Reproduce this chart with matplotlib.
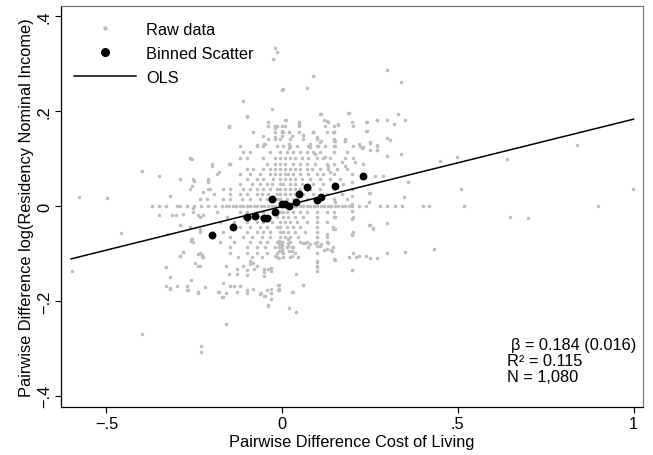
import matplotlib
matplotlib.use("Agg")
import matplotlib.pyplot as plt
from matplotlib.lines import Line2D

plt.rcParams["font.family"] = ["Liberation Sans", "DejaVu Sans"]

# binned scatter (20 bins)
bin_x = [-0.199, -0.140, -0.100, -0.078, -0.051, -0.042, -0.030, -0.020, 0.000, 0.009,
         0.021, 0.040, 0.049, 0.070, 0.100, 0.110, 0.150, 0.230]
bin_y = [-0.062, -0.044, -0.024, -0.022, -0.025, -0.025, 0.014, -0.013, 0.004, 0.004,
         0.001, 0.008, 0.026, 0.040, 0.012, 0.019, 0.042, 0.063]

# OLS fit
ols_slope = 0.184
ols_intercept = -0.001
ols_xrange = [-0.60, 1.00]

# raw data, dense core read row by row: (y, [x, ...])
core_rows = [
    (0.169, [-0.150, -0.039, -0.015, 0.008, 0.049, 0.122, 0.148, 0.203]),
    (0.155, [-0.020, -0.001, 0.021, 0.049, 0.089, 0.127, 0.148]),
    (0.141, [-0.039, -0.006, 0.023, 0.061, 0.099, 0.148, 0.179]),
    (0.127, [-0.072, -0.053, -0.015, 0.004, 0.023, 0.042, 0.075, 0.103, 0.122, 0.148, 0.203]),
    (0.113, [-0.110, -0.091, -0.034, -0.006, 0.013, 0.032, 0.051, 0.070, 0.089, 0.108, 0.148, 0.184]),
    (0.101, [-0.262, -0.120, -0.101, -0.053, -0.020, -0.006, 0.008, 0.023, 0.037, 0.056, 0.075,
             0.099, 0.117, 0.137, 0.179, 0.203]),
    (0.089, [-0.200, -0.148, -0.044, -0.020, -0.006, 0.008, 0.032, 0.051, 0.070, 0.094, 0.127, 0.148]),
    (0.078, [-0.101, -0.082, -0.053, -0.034, -0.020, -0.006, 0.008, 0.023, 0.037, 0.051, 0.070,
             0.084, 0.108, 0.132, 0.155, 0.184]),
    (0.067, [-0.186, -0.120, -0.091, -0.063, -0.034, -0.020, -0.006, 0.008, 0.018, 0.032, 0.051,
             0.075, 0.099, 0.117, 0.148, 0.198]),
    (0.057, [-0.252, -0.210, -0.101, -0.072, -0.053, -0.025, -0.006, 0.008, 0.023, 0.037, 0.056,
             0.080, 0.108, 0.137, 0.165]),
    (0.046, [-0.120, -0.086, -0.063, -0.044, -0.029, -0.006, 0.004, 0.023, 0.037, 0.056, 0.089,
             0.117, 0.148, 0.174]),
    (0.036, [-0.262, -0.205, -0.167, -0.148, -0.110, -0.091, -0.072, -0.053, -0.034, -0.015, -0.006,
             0.008, 0.023, 0.037, 0.051, 0.080, 0.108, 0.148, 0.198]),
    (0.025, [-0.195, -0.148, -0.120, -0.101, -0.072, -0.058, -0.039, -0.015, -0.006, 0.008, 0.023,
             0.037, 0.061, 0.089, 0.127, 0.170]),
    (0.015, [-0.214, -0.167, -0.148, -0.115, -0.091, -0.063, -0.044, -0.015, -0.006, 0.013, 0.032,
             0.070, 0.108, 0.148, 0.184]),
    (-0.001, [-0.37, -0.35, -0.33, -0.29, -0.27, -0.25, -0.23, -0.21, -0.19, -0.17, -0.16, -0.15,
              -0.14, -0.13, -0.12, -0.11, -0.10, -0.09, -0.08, -0.07, -0.06, -0.05, -0.04, -0.03,
              -0.02, -0.01, 0.00, 0.01, 0.02, 0.03, 0.04, 0.05, 0.06, 0.07, 0.08, 0.09, 0.10, 0.11,
              0.12, 0.13, 0.14, 0.15, 0.16, 0.17, 0.18, 0.19, 0.20, 0.22, 0.24, 0.28, 0.30, 0.32, 0.34]),
    (-0.013, [-0.252, -0.186, -0.120, -0.101, -0.072, -0.053, -0.025, -0.006, 0.004, 0.013, 0.032,
              0.051, 0.070, 0.099, 0.127, 0.148]),
    (-0.024, [-0.233, -0.157, -0.110, -0.086, -0.063, -0.034, -0.015, 0.004, 0.018, 0.037, 0.061,
              0.099, 0.148, 0.203]),
    (-0.034, [-0.176, -0.138, -0.101, -0.072, -0.053, -0.029, -0.006, 0.008, 0.023, 0.042, 0.070,
              0.099, 0.127]),
    (-0.045, [-0.262, -0.120, -0.091, -0.063, -0.044, -0.015, -0.006, 0.013, 0.032, 0.051, 0.099, 0.146]),
    (-0.055, [-0.233, -0.167, -0.101, -0.072, -0.053, -0.034, -0.006, 0.004, 0.018, 0.037, 0.065,
              0.099, 0.203]),
    (-0.066, [-0.148, -0.110, -0.086, -0.058, -0.034, -0.006, 0.008, 0.023, 0.046, 0.099]),
    (-0.076, [-0.252, -0.176, -0.138, -0.091, -0.063, -0.044, -0.015, -0.001, 0.023, 0.051, 0.099, 0.127]),
    (-0.087, [-0.148, -0.101, -0.072, -0.048, -0.020, -0.001, 0.013, 0.032, 0.075, 0.146]),
    (-0.098, [-0.233, -0.148, -0.101, -0.072, -0.044, -0.015, 0.004, 0.037, 0.099, 0.203]),
    (-0.108, [-0.224, -0.124, -0.086, -0.058, -0.015, 0.004, 0.023, 0.046]),
]

# raw data, scattered points around the core
raw_extra = [
    (-0.020, 0.334), (-0.015, 0.325), (-0.025, 0.310), (0.089, 0.275), (0.002, 0.247), (0.070, 0.248),
    (-0.110, 0.222), (-0.029, 0.204), (-0.100, 0.189), (0.108, 0.194), (0.009, 0.182), (0.049, 0.176),
    (-0.020, 0.169), (-0.150, 0.168), (0.004, 0.155), (0.028, 0.148), (-0.082, 0.155), (-0.053, 0.148),
    (-0.119, 0.127), (-0.048, 0.131), (-0.257, 0.100), (-0.399, 0.073), (-0.349, 0.064), (-0.290, 0.057),
    (-0.257, 0.043), (-0.210, 0.053), (-0.224, 0.029), (-0.200, 0.085), (-0.148, 0.089), (-0.578, 0.018),
    (-0.499, 0.017), (-0.349, -0.019), (-0.314, -0.020), (-0.252, -0.005), (-0.233, 0.015),
    (-0.598, -0.136), (-0.459, -0.056), (-0.399, -0.270), (-0.230, -0.296), (-0.230, -0.308),
    (-0.159, -0.249), (0.039, -0.224), (-0.039, -0.210), (-0.330, -0.129), (-0.319, -0.150),
    (-0.330, -0.168), (-0.319, -0.175), (-0.300, -0.168), (-0.271, -0.168), (-0.271, -0.176),
    (-0.260, -0.155), (-0.238, -0.181), (-0.219, -0.171), (-0.290, -0.105), (-0.238, -0.101),
    (-0.228, -0.105), (-0.233, -0.126), (-0.283, -0.096), (-0.181, -0.181), (-0.172, -0.192),
    (-0.148, -0.168), (-0.119, -0.168), (-0.129, -0.182), (-0.100, -0.178), (-0.082, -0.175),
    (-0.063, -0.185), (-0.048, -0.190), (-0.044, -0.178), (-0.032, -0.175), (-0.011, -0.176),
    (-0.011, -0.166), (0.030, -0.181), (0.059, -0.166), (0.021, -0.214), (0.061, -0.166),
    (0.198, -0.134), (0.431, -0.091), (0.350, -0.096), (0.300, -0.099), (0.250, -0.110),
    (0.220, -0.106), (0.191, -0.108), (0.151, -0.113), (0.099, -0.115), (0.099, -0.126),
    (0.099, -0.136), (0.300, -0.036), (0.250, -0.041), (0.260, -0.047), (0.198, -0.059),
    (0.146, -0.048), (0.127, -0.059), (0.127, -0.066), (0.141, -0.094), (0.127, -0.091),
    (0.108, -0.084), (0.094, -0.077), (0.080, -0.080), (0.065, -0.077), (0.300, 0.287),
    (0.339, 0.262), (0.110, 0.194), (0.127, 0.180), (0.160, 0.173), (0.191, 0.196), (0.241, 0.178),
    (0.269, 0.182), (0.300, 0.182), (0.329, 0.194), (0.319, 0.173), (0.350, 0.182), (0.241, 0.159),
    (0.300, 0.143), (0.307, 0.140), (0.250, 0.133), (0.269, 0.127), (0.269, 0.117), (0.222, 0.127),
    (0.230, 0.124), (0.179, 0.138), (0.146, 0.155), (0.151, 0.138), (0.151, 0.127), (0.089, 0.155),
    (0.061, 0.150), (0.108, 0.134), (0.099, 0.127), (0.300, 0.106), (0.339, 0.110), (0.288, 0.064),
    (0.359, 0.050), (0.348, 0.020), (0.250, 0.027), (0.449, 0.094), (0.499, 0.103), (0.509, 0.036),
    (0.639, 0.100), (0.838, 0.129), (0.998, 0.036), (0.518, -0.001), (0.649, -0.024), (0.699, -0.026),
    (0.898, -0.001), (0.402, -0.001), (0.418, -0.001),
    (-0.260, -0.073), (-0.281, -0.096), (-0.290, -0.106), (-0.229, -0.103), (-0.229, -0.108),
    (-0.249, -0.121), (-0.238, -0.126), (-0.269, -0.178), (-0.240, -0.183), (-0.319, -0.173),
    (-0.159, -0.127), (-0.150, -0.143), (-0.129, -0.133), (-0.129, -0.143), (-0.169, -0.163),
    (-0.138, -0.168), (-0.178, -0.182), (-0.159, -0.183), (-0.169, -0.192), (-0.110, -0.126),
    (-0.099, -0.134), (-0.099, -0.145), (-0.072, -0.127), (-0.082, -0.120), (-0.091, -0.115),
    (-0.091, -0.122), (-0.080, -0.133), (-0.050, -0.133), (-0.050, -0.140), (-0.050, -0.148),
    (-0.041, -0.133), (-0.031, -0.131), (-0.031, -0.136), (-0.100, -0.183), (-0.061, -0.183),
    (-0.050, -0.190), (-0.031, -0.183), (-0.031, -0.197), (-0.041, -0.209), (-0.010, -0.175),
    (-0.010, -0.073), (-0.010, -0.080), (-0.010, -0.087), (-0.010, -0.094), (-0.001, -0.076),
    (-0.001, -0.083), (-0.001, -0.090), (-0.001, -0.097), (0.018, -0.070), (0.018, -0.077),
    (0.018, -0.084), (0.029, -0.087), (0.020, -0.094), (0.029, -0.094), (0.029, -0.106),
    (0.061, -0.077), (0.070, -0.075), (0.099, -0.085), (0.110, -0.081), (0.130, -0.078),
    (0.120, -0.093), (0.139, -0.093), (0.149, -0.112), (0.099, -0.117), (0.099, -0.129),
    (0.209, -0.108), (0.239, -0.106), (0.270, -0.110), (0.200, -0.135), (0.040, -0.143),
    (-0.010, -0.166), (-0.010, -0.177), (0.029, -0.182), (0.040, -0.224), (-0.020, -0.105),
    (-0.010, -0.110), (0.198, 0.050), (0.198, 0.036), (0.198, 0.022), (0.198, 0.004),
    (0.198, -0.010), (0.198, -0.028), (0.170, 0.092), (0.179, 0.085), (0.208, 0.092), (0.231, 0.089),
    (0.248, 0.027), (0.248, 0.008), (0.151, 0.008), (0.151, -0.024), (0.151, -0.048),
    (0.248, -0.041), (0.258, -0.048), (0.198, -0.061), (0.264, 0.063), (0.094, 0.110),
    (0.122, 0.103), (0.132, 0.085), (0.136, 0.071), (0.001, 0.245), (0.120, 0.181), (0.130, 0.178),
    (0.189, 0.196), (0.200, 0.178), (0.160, 0.171), (0.239, 0.178), (0.239, 0.159), (0.269, 0.181),
    (0.010, 0.181), (0.001, 0.169), (0.001, 0.159), (0.001, 0.148), (-0.020, 0.166), (-0.020, 0.145),
    (0.020, 0.157), (0.049, 0.178), (0.049, 0.171), (0.060, 0.150), (0.089, 0.157), (0.100, 0.145),
    (0.080, 0.131), (0.080, 0.124), (0.110, 0.136), (0.149, 0.157), (0.149, 0.136), (0.149, 0.126),
    (0.179, 0.138), (0.219, 0.131), (0.228, 0.122), (0.249, 0.134), (0.249, 0.119), (0.269, 0.129),
    (0.269, 0.119), (0.020, 0.131), (0.020, 0.122), (-0.099, 0.187), (-0.150, 0.167),
    (-0.041, 0.178), (-0.020, 0.164), (-0.020, 0.141), (-0.070, 0.129), (-0.050, 0.131),
    (-0.260, 0.100), (-0.300, -0.001), (-0.281, -0.017), (-0.260, -0.070), (-0.319, 0.022),
    (-0.250, 0.053), (-0.210, 0.051), (-0.210, 0.036), (-0.238, -0.020), (-0.224, -0.020),
    (-0.178, 0.072), (-0.150, 0.089), (-0.302, -0.020), (-0.328, -0.059), (-0.290, -0.040),
    (-0.257, -0.070), (-0.233, -0.048),
]

raw_x = [x for y, xs in core_rows for x in xs] + [p[0] for p in raw_extra]
raw_y = [y for y, xs in core_rows for x in xs] + [p[1] for p in raw_extra]

stats_lines = ["β = 0.184 (0.016)", "R² = 0.115", "N = 1,080"]
xticks = [-0.5, 0, 0.5, 1]
xtick_labels = ["\u2212.5", "0", ".5", "1"]
yticks = [-0.4, -0.2, 0, 0.2, 0.4]
ytick_labels = ["\u2212.4", "\u2212.2", "0", ".2", ".4"]

fig = plt.figure(figsize=(6.53, 4.56), dpi=100)
ax = fig.add_axes([0.0934, 0.1053, 0.8913, 0.8793])

gray = "#bdbdbd"
fs = 11.8
ax.scatter(raw_x, raw_y, s=6.5, color=gray, linewidths=0, zorder=1)
ax.plot(ols_xrange, [ols_intercept + ols_slope * x for x in ols_xrange],
        color="black", linewidth=1.1, zorder=2)
ax.scatter(bin_x, bin_y, s=32, color="black", linewidths=0, zorder=3)

ax.set_xlim(-0.629, 1.027)
ax.set_ylim(-0.4236, 0.4215)
ax.set_xticks(xticks)
ax.set_xticklabels(xtick_labels, fontsize=fs)
ax.set_yticks(yticks)
ax.set_yticklabels(ytick_labels, fontsize=fs, rotation=90, va="center")
ax.tick_params(direction="out", length=4, width=0.8, color="black", pad=2.5)

for side in ["top", "right"]:
    ax.spines[side].set_color("#6e6e6e")
    ax.spines[side].set_linewidth(0.8)
for side in ["left", "bottom"]:
    ax.spines[side].set_color("black")
    ax.spines[side].set_linewidth(0.9)

ax.set_xlabel("Pairwise Difference Cost of Living", fontsize=fs, labelpad=2)
ax.set_ylabel("Pairwise Difference log(Residency Nominal Income)", fontsize=fs, labelpad=2)

handles = [
    Line2D([], [], linestyle="none", marker="o", markersize=2.2, color=gray),
    Line2D([], [], linestyle="none", marker="o", markersize=5.5, color="black"),
    Line2D([], [], color="black", linewidth=1.1),
]
ax.legend(handles, ["Raw data", "Binned Scatter", "OLS"], loc="upper left",
          bbox_to_anchor=(0.022, 0.960), frameon=False, fontsize=fs,
          handlelength=3.8, handletextpad=0.6, labelspacing=0.55,
          borderaxespad=0, borderpad=0)

for i, line in enumerate(stats_lines):
    ax.text(0.766 + (0.008 if i == 0 else 0), 0.157 - i * 0.041, line,
            transform=ax.transAxes, fontsize=fs, va="center", ha="left")

fig.savefig("out.png", dpi=100)
